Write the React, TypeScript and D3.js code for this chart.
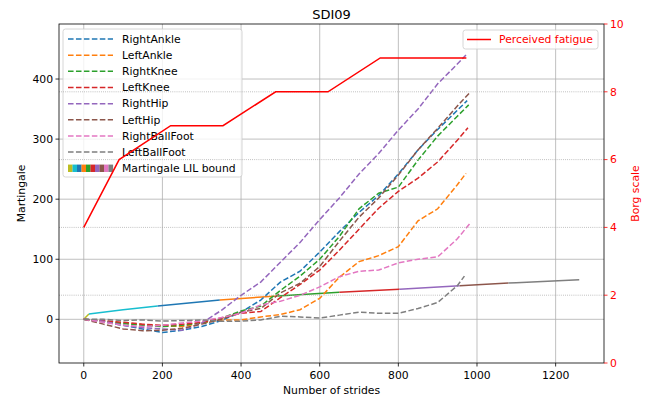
import * as d3 from "d3";
import { useEffect, useRef } from "react";

const WIDTH = 650;
const HEIGHT = 403;
const FONT = "DejaVu Sans, sans-serif";
const FS = 10.8;

// martingale per sensor, [stride, value]
const rightAnkle = [[0, 0], [50, -4], [100, -10], [150, -16], [200, -22], [250, -18], [300, -12], [350, -2], [400, 12], [450, 32], [500, 62], [550, 80], [600, 112], [650, 146], [700, 178], [750, 206], [800, 242], [850, 282], [900, 316], [950, 348], [975, 364]];
const leftAnkle = [[0, 0], [50, -3], [100, -6], [150, -9], [200, -11], [250, -12], [300, -6], [350, -1], [400, -1], [450, 4], [500, 8], [550, 16], [600, 35], [650, 70], [700, 96], [750, 106], [800, 121], [850, 164], [900, 184], [950, 224], [972, 243]];
const rightKnee = [[0, 0], [50, -3], [100, -7], [150, -10], [200, -12], [250, -10], [300, -6], [350, 2], [400, 14], [450, 22], [500, 48], [550, 72], [600, 100], [650, 138], [700, 184], [750, 210], [800, 220], [850, 265], [900, 305], [950, 338], [979, 357]];
const leftKnee = [[0, 0], [50, -2], [100, -5], [150, -8], [200, -10], [250, -8], [300, -5], [350, 2], [400, 10], [450, 13], [500, 36], [550, 58], [600, 82], [650, 115], [700, 150], [750, 185], [800, 213], [850, 235], [900, 262], [950, 298], [977, 319]];
const rightHip = [[0, 0], [50, -3], [100, -10], [150, -14], [200, -16], [250, -18], [300, -6], [350, 15], [400, 40], [450, 62], [500, 95], [550, 128], [600, 166], [650, 202], [700, 242], [750, 276], [800, 315], [850, 350], [900, 392], [950, 425], [972, 440]];
const leftHip = [[0, 0], [50, -8], [100, -16], [150, -19], [200, -18], [250, -15], [300, -8], [350, 0], [400, 12], [450, 18], [500, 44], [550, 60], [600, 88], [650, 130], [700, 170], [750, 202], [800, 240], [850, 282], [900, 318], [950, 355], [981, 377]];
const rightBallFoot = [[0, 0], [50, -5], [100, -10], [150, -12], [200, -10], [250, -6], [300, -3], [350, 3], [400, 10], [450, 24], [500, 30], [550, 40], [600, 54], [650, 71], [700, 80], [750, 82], [800, 94], [850, 100], [900, 104], [950, 134], [985, 162]];
const leftBallFoot = [[0, 0], [50, 0], [100, -2], [150, -1], [200, -3], [250, -2], [300, -1], [350, -3], [400, -3], [450, -1], [500, 5], [550, 4], [600, 2], [650, 7], [700, 12], [750, 10], [800, 10], [850, 18], [900, 28], [950, 56], [968, 72]];

const seriesNames = ["RightAnkle", "LeftAnkle", "RightKnee", "LeftKnee", "RightHip", "LeftHip", "RightBallFoot", "LeftBallFoot"];
const seriesData = [rightAnkle, leftAnkle, rightKnee, leftKnee, rightHip, leftHip, rightBallFoot, leftBallFoot];
const seriesColors = ["#1f77b4", "#ff7f0e", "#2ca02c", "#d62728", "#9467bd", "#8c564b", "#e377c2", "#7f7f7f"];

// LIL bound, coloured by stride segment
const lilBound = [[0, 0], [13, 9], [100, 16], [188, 22], [346, 32], [493, 39], [650, 45], [803, 50], [956, 56], [1100, 61], [1260, 66]];
const lilBreaks = [0, 13, 188, 346, 493, 650, 803, 956, 1080, 1260];
const lilColors = ["#bcbd22", "#17becf", "#1f77b4", "#ff7f0e", "#2ca02c", "#d62728", "#9467bd", "#8c564b", "#7f7f7f"];
const lilPatchColors = ["#bcbd22", "#17becf", "#1f77b4", "#ff7f0e", "#2ca02c", "#d62728", "#9467bd", "#8c564b", "#e377c2", "#7f7f7f"];

// perceived fatigue (Borg)
const fatigue = [[0, 4], [90, 6], [221, 7], [354, 7], [488, 8], [621, 8], [754, 9], [973, 9]];

const xTicks = [0, 200, 400, 600, 800, 1000, 1200];
const yTicks = [0, 100, 200, 300, 400];
const borgTicks = [0, 2, 4, 6, 8, 10];

const App = () => {
  const svgRef = useRef(null);

  useEffect(() => {
    document.body.style.margin = "0";
    const svg = d3.select(svgRef.current);
    svg.selectAll("*").remove();

    const left = 59, right = 604, top = 24, bottom = 363;
    const x = d3.scaleLinear().domain([-63, 1323]).range([left, right]);
    const y = d3.scaleLinear().domain([-72.7, 491.6]).range([bottom, top]);
    const y2 = d3.scaleLinear().domain([0, 10]).range([bottom, top]);

    svg.append("rect").attr("width", WIDTH).attr("height", HEIGHT).attr("fill", "white");

    svg.append("defs").append("clipPath").attr("id", "plot")
      .append("rect").attr("x", left).attr("y", top).attr("width", right - left).attr("height", bottom - top);

    // primary grid
    const grid = svg.append("g").attr("stroke", "#b0b0b0").attr("stroke-width", 0.8);
    grid.selectAll(".vx").data(xTicks).enter().append("line")
      .attr("x1", (d) => x(d)).attr("x2", (d) => x(d)).attr("y1", top).attr("y2", bottom);
    grid.selectAll(".hy").data(yTicks).enter().append("line")
      .attr("x1", left).attr("x2", right).attr("y1", (d) => y(d)).attr("y2", (d) => y(d));

    const plot = svg.append("g").attr("clip-path", "url(#plot)");

    // LIL bound
    const interp = d3.scaleLinear().domain(lilBound.map((d) => d[0])).range(lilBound.map((d) => d[1]));
    const line = d3.line().x((d) => x(d[0])).y((d) => y(d[1]));
    lilColors.forEach((c, i) => {
      const a = lilBreaks[i], b = lilBreaks[i + 1];
      const pts = [[a, interp(a)], ...lilBound.filter((d) => d[0] > a && d[0] < b), [b, interp(b)]];
      plot.append("path").attr("d", line(pts)).attr("fill", "none")
        .attr("stroke", c).attr("stroke-width", 1.5);
    });

    // sensor martingales
    seriesData.forEach((s, i) => {
      plot.append("path").attr("d", line(s)).attr("fill", "none")
        .attr("stroke", seriesColors[i]).attr("stroke-width", 1.5)
        .attr("stroke-dasharray", "5.55,2.4");
    });

    // left legend
    const lg = svg.append("g").attr("font-family", FONT).attr("font-size", FS);
    lg.append("rect").attr("x", 63).attr("y", 29).attr("width", 179).attr("height", 148).attr("rx", 2.5)
      .attr("fill", "white").attr("fill-opacity", 0.8).attr("stroke", "#cccccc").attr("stroke-width", 0.8);
    seriesNames.forEach((name, i) => {
      const cy = 39 + i * 16.16;
      lg.append("line").attr("x1", 68).attr("x2", 113).attr("y1", cy).attr("y2", cy)
        .attr("stroke", seriesColors[i]).attr("stroke-width", 1.5).attr("stroke-dasharray", "5.55,2.4");
      lg.append("text").attr("x", 122).attr("y", cy).attr("dy", "0.35em").text(name);
    });
    const mcy = 39 + 8 * 16.16;
    lilPatchColors.forEach((c, i) => {
      lg.append("rect").attr("x", 68 + i * 4.5).attr("y", mcy - 3.7).attr("width", 4.6).attr("height", 7.4).attr("fill", c);
    });
    lg.append("text").attr("x", 122).attr("y", mcy).attr("dy", "0.35em").text("Martingale LIL bound");

    // secondary grid (Borg)
    svg.append("g").selectAll("line").data(borgTicks.slice(1, -1)).enter().append("line")
      .attr("x1", left).attr("x2", right).attr("y1", (d) => y2(d)).attr("y2", (d) => y2(d))
      .attr("stroke", "#a0a0a0").attr("stroke-width", 0.8).attr("stroke-dasharray", "0.8,1.3");

    // perceived fatigue
    const line2 = d3.line().x((d) => x(d[0])).y((d) => y2(d[1]));
    svg.append("path").attr("d", line2(fatigue)).attr("fill", "none")
      .attr("stroke", "red").attr("stroke-width", 1.5).attr("clip-path", "url(#plot)");

    // right legend
    const rg = svg.append("g").attr("font-family", FONT).attr("font-size", FS);
    rg.append("rect").attr("x", 463).attr("y", 30).attr("width", 135).attr("height", 19).attr("rx", 2.5)
      .attr("fill", "white").attr("fill-opacity", 0.8).attr("stroke", "#cccccc").attr("stroke-width", 0.8);
    rg.append("line").attr("x1", 467).attr("x2", 491).attr("y1", 39.5).attr("y2", 39.5)
      .attr("stroke", "red").attr("stroke-width", 1.5);
    rg.append("text").attr("x", 499).attr("y", 39.5).attr("dy", "0.35em").attr("fill", "red").text("Perceived fatigue");

    // spines
    svg.append("rect").attr("x", left).attr("y", top).attr("width", right - left).attr("height", bottom - top)
      .attr("fill", "none").attr("stroke", "black").attr("stroke-width", 0.8);

    // axes
    const ax = svg.append("g").attr("font-family", FONT).attr("font-size", FS);
    xTicks.forEach((t) => {
      ax.append("line").attr("x1", x(t)).attr("x2", x(t)).attr("y1", bottom).attr("y2", bottom + 3.5)
        .attr("stroke", "black").attr("stroke-width", 0.8);
      ax.append("text").attr("x", x(t)).attr("y", bottom + 15.5).attr("text-anchor", "middle").text(t);
    });
    yTicks.forEach((t) => {
      ax.append("line").attr("x1", left - 3.5).attr("x2", left).attr("y1", y(t)).attr("y2", y(t))
        .attr("stroke", "black").attr("stroke-width", 0.8);
      ax.append("text").attr("x", left - 6).attr("y", y(t)).attr("dy", "0.35em").attr("text-anchor", "end").text(t);
    });
    borgTicks.forEach((t) => {
      ax.append("line").attr("x1", right).attr("x2", right + 3.5).attr("y1", y2(t)).attr("y2", y2(t))
        .attr("stroke", "red").attr("stroke-width", 0.8);
      ax.append("text").attr("x", right + 6).attr("y", y2(t)).attr("dy", "0.35em").attr("fill", "red").text(t);
    });

    ax.append("text").attr("x", (left + right) / 2).attr("y", 394).attr("text-anchor", "middle").text("Number of strides");
    ax.append("text").attr("transform", `translate(21, ${(top + bottom) / 2}) rotate(-90)`)
      .attr("text-anchor", "middle").attr("dy", "0.35em").text("Martingale");
    ax.append("text").attr("transform", `translate(635, ${(top + bottom) / 2}) rotate(-90)`)
      .attr("text-anchor", "middle").attr("dy", "0.35em").attr("fill", "red").text("Borg scale");
    ax.append("text").attr("x", (left + right) / 2).attr("y", 18.5).attr("text-anchor", "middle")
      .attr("font-size", 13).text("SDI09");
  }, []);

  return <svg ref={svgRef} width={WIDTH} height={HEIGHT} style={{ display: "block" }}></svg>;
};

export default App;
